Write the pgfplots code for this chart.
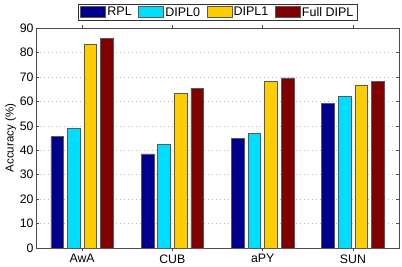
\documentclass[border=0pt]{standalone}
\usepackage{pgfplots}
\pgfplotsset{compat=1.18}
\usepackage{fontspec}
\setmainfont{Liberation Sans}
\definecolor{cRPL}{rgb}{0,0,0.56}
\definecolor{cD0}{rgb}{0,0.87,1}
\definecolor{cD1}{rgb}{1,0.8,0}
\definecolor{cFull}{rgb}{0.5,0,0}
\begin{document}
\begin{tikzpicture}[x=1pt,y=1pt]
\useasboundingbox (0,0) rectangle (402,266);
\begin{axis}[
  at={(36pt,18pt)},
  anchor=south west,
  width=363pt, height=220pt,
  scale only axis,
  xmin=-0.51, xmax=3.51,
  ymin=0, ymax=90,
  ytick={0,10,...,90},
  xtick={0,1,2,3},
  xticklabels={AwA,CUB,aPY,SUN},
  ymajorgrids,
  grid style={dash pattern=on 1pt off 3pt, gray!55},
  tick align=inside,
  major tick length=3pt,
  tick style={gray!60!black, line width=0.4pt},
  ylabel={Accuracy (\%)},
  ylabel style={font=\fontsize{11.5}{13}\selectfont, yshift=-3pt},
  tick label style={font=\fontsize{12.3}{14}\selectfont},
  yticklabel style={xshift=1pt},
  /pgf/number format/assume math mode=true,
  ybar,
  bar width=0.14,
  axis line style={gray!60!black, line width=0.6pt},
  legend columns=8,
  legend style={at={(0.1157,1.032)}, anchor=south west, draw=gray!40!black, line width=0.6pt,
    font=\fontsize{12.5}{14}\selectfont, inner xsep=2pt, inner ysep=1pt,
    nodes={inner xsep=1.5pt}, /tikz/column sep=0pt},
  legend image code/.code={\draw[#1] (0pt,-5pt) rectangle (25pt,6pt);},
  every axis plot/.append style={draw=gray!70!black, line width=0.6pt},
]
\addplot[fill=cRPL, bar shift=-0.275] coordinates {(0,45.5) (1,38.5) (2,44.7) (3,59.0)};
\addlegendentry{RPL\hspace*{5pt}}
\addplot[fill=cD0, bar shift=-0.092] coordinates {(0,49.0) (1,42.3) (2,47.0) (3,62.0)};
\addlegendentry{DIPL0\hspace*{5pt}}
\addplot[fill=cD1, bar shift=0.092] coordinates {(0,83.2) (1,63.2) (2,68.0) (3,66.7)};
\addlegendentry{DIPL1\hspace*{5pt}}
\addplot[fill=cFull, bar shift=0.275] coordinates {(0,85.6) (1,65.4) (2,69.6) (3,68.0)};
\addlegendentry{Full DIPL}
\end{axis}
\end{tikzpicture}
\end{document}
